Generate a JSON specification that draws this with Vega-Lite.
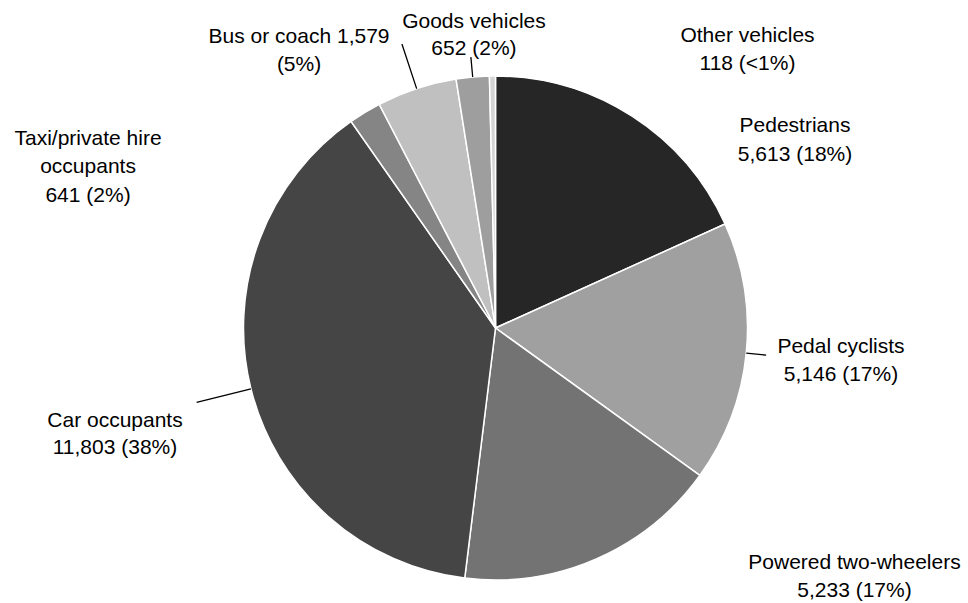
{
  "$schema": "https://vega.github.io/schema/vega-lite/v6.json",
  "width": 945,
  "height": 550,
  "autosize": "none",
  "padding": {"left": 23, "top": 53, "right": 0, "bottom": 0},
  "background": "#ffffff",
  "config": {"view": {"stroke": null}},
  "data": {
    "values": [
      {"category": "Pedestrians", "value": 5613, "rank": 1, "label": "Pedestrians\n5,613 (18%)"},
      {"category": "Pedal cyclists", "value": 5146, "rank": 2, "label": "Pedal cyclists\n5,146 (17%)"},
      {"category": "Powered two-wheelers", "value": 5233, "rank": 3, "label": "Powered two-wheelers\n5,233 (17%)"},
      {"category": "Car occupants", "value": 11803, "rank": 4, "label": "Car occupants\n11,803 (38%)"},
      {"category": "Taxi/private hire occupants", "value": 641, "rank": 5, "label": "Taxi/private hire\noccupants\n641 (2%)"},
      {"category": "Bus or coach", "value": 1579, "rank": 6, "label": "Bus or coach 1,579\n(5%)"},
      {"category": "Goods vehicles", "value": 652, "rank": 7, "label": "Goods vehicles\n652 (2%)"},
      {"category": "Other vehicles", "value": 118, "rank": 8, "label": "Other vehicles\n118 (<1%)"}
    ]
  },
  "encoding": {
    "theta": {"field": "value", "type": "quantitative", "stack": true},
    "order": {"field": "rank", "type": "quantitative"},
    "detail": {"field": "category", "type": "nominal"}
  },
  "layer": [
    {
      "mark": {"type": "arc", "outerRadius": 252, "stroke": "#ffffff", "strokeWidth": 1.5},
      "encoding": {
        "color": {
          "field": "category",
          "type": "nominal",
          "legend": null,
          "scale": {
            "domain": ["Pedestrians", "Pedal cyclists", "Powered two-wheelers", "Car occupants", "Taxi/private hire occupants", "Bus or coach", "Goods vehicles", "Other vehicles"],
            "range": ["#262626", "#a0a0a0", "#737373", "#454545", "#858585", "#c0c0c0", "#9e9e9e", "#d4d4d4"]
          }
        }
      }
    },
    {
      "mark": {"type": "arc", "innerRadius": 252, "outerRadius": 272, "padAngle": 3.14159, "filled": false, "stroke": "#000000", "strokeWidth": 1.3},
      "encoding": {
        "strokeOpacity": {"condition": {"test": "datum.category === 'Pedal cyclists' || datum.category === 'Goods vehicles'", "value": 1}, "value": 0}
      }
    },
    {
      "mark": {"type": "arc", "innerRadius": 252, "outerRadius": 299, "padAngle": 3.14159, "filled": false, "stroke": "#000000", "strokeWidth": 1.3},
      "encoding": {
        "strokeOpacity": {"condition": {"test": "datum.category === 'Bus or coach'", "value": 1}, "value": 0}
      }
    },
    {
      "mark": {"type": "arc", "innerRadius": 252, "outerRadius": 308, "padAngle": 3.14159, "filled": false, "stroke": "#000000", "strokeWidth": 1.3},
      "encoding": {
        "strokeOpacity": {"condition": {"test": "datum.category === 'Car occupants'", "value": 1}, "value": 0}
      }
    },
    {
      "mark": {"type": "text", "radius": 361.0, "thetaOffset": 0.4058, "align": "center", "baseline": "middle", "font": "Liberation Sans", "fontSize": 21, "lineHeight": 29, "lineBreak": "\n", "fill": "#000000"},
      "encoding": {"text": {"condition": {"test": "datum.category === 'Pedestrians'", "field": "label"}, "value": ""}}
    },
    {
      "mark": {"type": "text", "radius": 346.0, "thetaOffset": -0.0464, "align": "center", "baseline": "middle", "font": "Liberation Sans", "fontSize": 21, "lineHeight": 28, "lineBreak": "\n", "fill": "#000000"},
      "encoding": {"text": {"condition": {"test": "datum.category === 'Pedal cyclists'", "field": "label"}, "value": ""}}
    },
    {
      "mark": {"type": "text", "radius": 428.8, "thetaOffset": -0.5805, "align": "center", "baseline": "middle", "font": "Liberation Sans", "fontSize": 21, "lineHeight": 28, "lineBreak": "\n", "fill": "#000000"},
      "encoding": {"text": {"condition": {"test": "datum.category === 'Powered two-wheelers'", "field": "label"}, "value": ""}}
    },
    {
      "mark": {"type": "text", "radius": 391.7, "thetaOffset": 0.0044, "align": "center", "baseline": "middle", "font": "Liberation Sans", "fontSize": 21, "lineHeight": 27, "lineBreak": "\n", "fill": "#000000"},
      "encoding": {"text": {"condition": {"test": "datum.category === 'Car occupants'", "field": "label"}, "value": ""}}
    },
    {
      "mark": {"type": "text", "radius": 449.2, "thetaOffset": -0.5915, "align": "center", "baseline": "middle", "font": "Liberation Sans", "fontSize": 21, "lineHeight": 28.5, "lineBreak": "\n", "fill": "#000000"},
      "encoding": {"text": {"condition": {"test": "datum.category === 'Taxi/private hire occupants'", "field": "label"}, "value": ""}}
    },
    {
      "mark": {"type": "text", "radius": 350.7, "thetaOffset": -0.2763, "align": "center", "baseline": "middle", "font": "Liberation Sans", "fontSize": 21, "lineHeight": 28, "lineBreak": "\n", "fill": "#000000"},
      "encoding": {"text": {"condition": {"test": "datum.category === 'Bus or coach'", "field": "label"}, "value": ""}}
    },
    {
      "mark": {"type": "text", "radius": 306.3, "thetaOffset": 0.0202, "align": "center", "baseline": "middle", "font": "Liberation Sans", "fontSize": 21, "lineHeight": 27, "lineBreak": "\n", "fill": "#000000"},
      "encoding": {"text": {"condition": {"test": "datum.category === 'Goods vehicles'", "field": "label"}, "value": ""}}
    },
    {
      "mark": {"type": "text", "radius": 385.7, "thetaOffset": 0.724, "align": "center", "baseline": "middle", "font": "Liberation Sans", "fontSize": 21, "lineHeight": 28, "lineBreak": "\n", "fill": "#000000"},
      "encoding": {"text": {"condition": {"test": "datum.category === 'Other vehicles'", "field": "label"}, "value": ""}}
    }
  ]
}
